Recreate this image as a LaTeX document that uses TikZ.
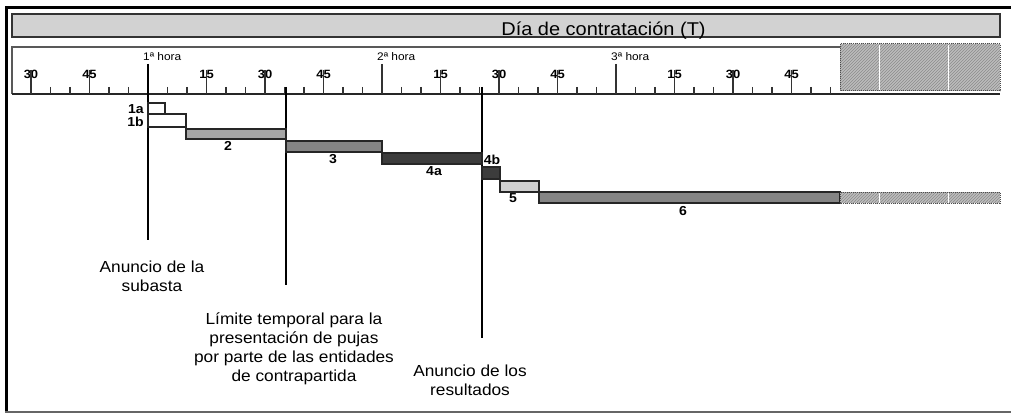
\documentclass[tikz,border=0pt]{standalone}
\usepackage{fontspec}
\setmainfont{Liberation Sans}[FakeStretch=1.08]
\usetikzlibrary{patterns}
\definecolor{titlegray}{HTML}{D2D2D2}
\definecolor{bartwo}{HTML}{A6A6A6}
\definecolor{barmid}{HTML}{858585}
\definecolor{bardark}{HTML}{3C3C3C}
\definecolor{barlight}{HTML}{D0D0D0}
\definecolor{hatchgray}{HTML}{BCBCBC}
\begin{document}
\begin{tikzpicture}[x=1pt,y=-1pt,
  frameline/.style={line width=3pt,black},
  tickline/.style={line width=1.8pt,black!80},
  marker/.style={line width=1.5pt,black},
  barbox/.style={draw=black!85,line width=1.2pt},
  hatchbox/.style={fill=hatchgray},
  hatchlines/.style={pattern=north east lines,pattern color=black!45},
  hatchborder/.style={draw=black!70,densely dotted,line width=1pt},
  biglbl/.style={font=\fontsize{16}{19}\selectfont,align=center,inner sep=0pt},
  barlbl/.style={font=\fontsize{13}{13}\selectfont\bfseries,inner sep=0pt},
  ticklbl/.style={font=\fontsize{12}{12}\selectfont\bfseries,inner sep=0pt},
  hourlbl/.style={font=\fontsize{11}{11}\selectfont,inner sep=0pt,anchor=base west}]
\useasboundingbox (0,0) rectangle (1011,414);
% outer frame
\draw[frameline] (1011,8) -- (6.5,8) -- (6.5,412);
\draw[line width=2pt,black!60] (5,412) -- (1011,412);
% title bar
\draw[fill=titlegray,draw=black!80,line width=1.5pt] (12,14) rectangle (1000,37);
\node[font=\fontsize{18.5}{20}\selectfont,anchor=base,inner sep=0pt] (title) at (603.5,35.5) {Día de contratación (T)};
% ruler frame
\draw[line width=2pt,black!65] (840,47) -- (12,47) -- (12,94);
% hatched continuation in ruler
\fill[hatchbox] (840,44) rectangle (1000,91);
\fill[hatchlines] (840,44) rectangle (1000,91);
\draw[hatchborder] (840,44) rectangle (1000,91);
\draw[white,line width=1pt] (879,45) -- (879,90) (948,45) -- (948,90);
% axis
\draw[line width=1.5pt,black!85] (12,94) -- (1000,94);
% ticks
\foreach \k in {-6,...,35}{
  \pgfmathsetmacro\xx{148+19.5*\k}
  \pgfmathtruncatemacro\r{mod(\k+36,12)}
  \pgfmathtruncatemacro\q{mod(\k+36,3)}
  \pgfmathtruncatemacro\mm{mod(5*\k+120,60)}
  \pgfmathtruncatemacro\hh{(\k+36)/12-2}
  \ifnum\r=0
    \node[hourlbl] at (\xx-5,61) {\hh ª hora};
    \draw[tickline] (\xx,64) -- (\xx,94);
  \else\ifnum\q=0
    \node[ticklbl] at (\xx,74) {\mm};
    \draw[tickline] (\xx,70) -- (\xx,94);
  \else
    \draw[tickline] (\xx,87) -- (\xx,94);
  \fi\fi
}
% event lines
\coordinate (aTop) at (148,64);
\coordinate (aBot) at (148,240);
\coordinate (bTop) at (286,87);
\coordinate (bBot) at (286,285);
\coordinate (cTop) at (482,87);
\coordinate (cBot) at (482,338);
\draw[marker] (aTop) -- (aBot);
\draw[marker] (bTop) -- (bBot);
\draw[marker] (cTop) -- (cBot);
\node[biglbl] (anuncio) at (152,276) {Anuncio de la\\subasta};
\node[biglbl] (limite) at (294,349) {Límite temporal para la\\presentación de pujas\\por parte de las entidades\\de contrapartida};
\node[biglbl] (result) at (470,380) {Anuncio de los\\resultados};
% bars
\draw[barbox,fill=white] (148,103) rectangle (165,114);
\draw[barbox,fill=white] (148,114) rectangle (186,127);
\draw[barbox,fill=bartwo] (186,129) rectangle (286,139);
\draw[barbox,fill=barmid] (286,141) rectangle (382,152);
\draw[barbox,fill=bardark] (382,153) rectangle (482,164);
\draw[barbox,fill=bardark] (482,167) rectangle (500,179);
\draw[barbox,fill=barlight] (500,181) rectangle (539,192);
\draw[barbox,fill=barmid] (539,192) rectangle (840,203);
\fill[hatchbox] (840,192) rectangle (1000,203);
\fill[hatchlines] (840,192) rectangle (1000,203);
\draw[hatchborder] (840,192) rectangle (1000,203);
\draw[white,line width=1pt] (879,192.5) -- (879,202.5) (948,192.5) -- (948,202.5);
% bar labels
\node[barlbl,anchor=east] (l1a) at (144,109) {1a};
\node[barlbl,anchor=east] (l1b) at (144,122) {1b};
\node[barlbl] (l2) at (228,146) {2};
\node[barlbl] (l3) at (333,159) {3};
\node[barlbl] (l4a) at (434,171) {4a};
\node[barlbl] (l4b) at (492,160) {4b};
\node[barlbl] (l5) at (513,198) {5};
\node[barlbl] (l6) at (683,211) {6};
\end{tikzpicture}
\end{document}
